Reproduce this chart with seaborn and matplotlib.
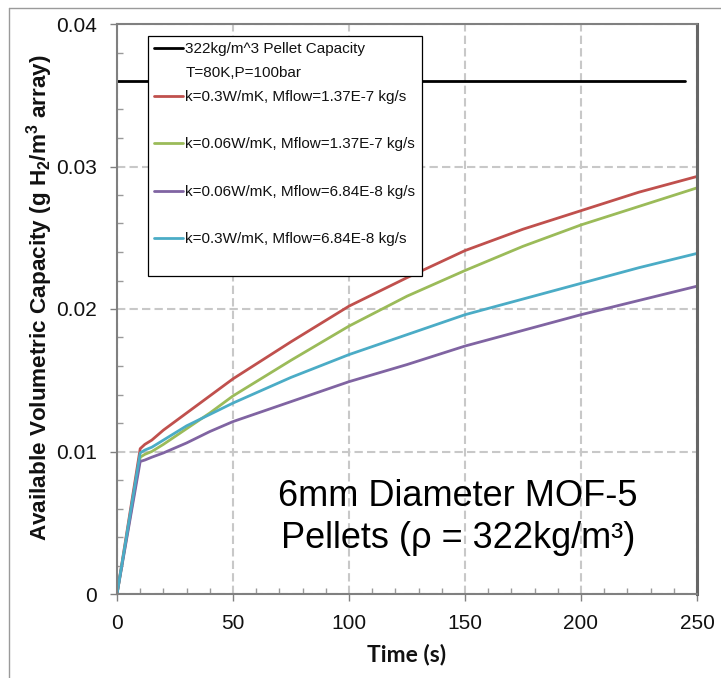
import numpy as np
import pandas as pd
import matplotlib
matplotlib.use("Agg")
import matplotlib.pyplot as plt
import seaborn as sns
from matplotlib.lines import Line2D
from matplotlib.legend_handler import HandlerLine2D
from matplotlib.ticker import MultipleLocator

# ---------------- data ----------------
time_s = [0, 10, 12, 15, 20, 30, 40, 50, 75, 100, 125, 150, 175, 200, 225, 250]
red_k03_m137 = [0, 0.0102, 0.0105, 0.0108, 0.0115, 0.0127, 0.0139, 0.0151, 0.0177,
                0.0202, 0.0222, 0.0241, 0.0256, 0.0269, 0.0282, 0.0293]
green_k006_m137 = [0, 0.0096, 0.0098, 0.0100, 0.0105, 0.0116, 0.0127, 0.0139, 0.0164,
                   0.0188, 0.0209, 0.0227, 0.0244, 0.0259, 0.0272, 0.0285]
purple_k006_m684 = [0, 0.0093, 0.0094, 0.0096, 0.0099, 0.0106, 0.0114, 0.0121, 0.0135,
                    0.0149, 0.0161, 0.0174, 0.0185, 0.0196, 0.0206, 0.0216]
cyan_k03_m684 = [0, 0.0099, 0.0101, 0.0103, 0.0108, 0.0118, 0.0126, 0.0134, 0.0152,
                 0.0168, 0.0182, 0.0196, 0.0207, 0.0218, 0.0229, 0.0239]

capacity_time = [0, 245]
capacity_value = [0.036, 0.036]

capacity_label = "322kg/m^3 Pellet Capacity\nT=80K,P=100bar"
series_labels = [
    "k=0.3W/mK, Mflow=1.37E-7 kg/s",
    "k=0.06W/mK, Mflow=1.37E-7 kg/s",
    "k=0.06W/mK, Mflow=6.84E-8 kg/s",
    "k=0.3W/mK, Mflow=6.84E-8 kg/s",
]
series_values = [red_k03_m137, green_k006_m137, purple_k006_m684, cyan_k03_m684]
series_colors = ["#C0504D", "#9BBB59", "#8064A2", "#4BACC6"]
capacity_color = "#000000"

x_ticks = [0, 50, 100, 150, 200, 250]
x_tick_labels = ["0", "50", "100", "150", "200", "250"]
y_ticks = [0, 0.01, 0.02, 0.03, 0.04]
y_tick_labels = ["0", "0.01", "0.02", "0.03", "0.04"]

x_label = "Time (s)"
y_label = r"Available Volumetric Capacity (g H$_\mathbf{2}$/m$^\mathbf{3}$ array)"
note_text = "6mm Diameter MOF-5\nPellets (\u03c1 = 322kg/m\u00b3)"

# ---------------- build frame ----------------
rows = []
for lab, vals in zip(series_labels, series_values):
    for t, v in zip(time_s, vals):
        rows.append({"time": t, "value": v, "series": lab})
df = pd.DataFrame(rows)
cap_df = pd.DataFrame({"time": capacity_time, "value": capacity_value})

# ---------------- style ----------------
sns.set_theme(style="white")
plt.rcParams["font.family"] = ["Liberation Sans", "DejaVu Sans"]
plt.rcParams["mathtext.fontset"] = "custom"
plt.rcParams["mathtext.rm"] = "Liberation Sans"
plt.rcParams["mathtext.bf"] = "Liberation Sans:bold"
plt.rcParams["mathtext.it"] = "Liberation Sans:italic"

fig = plt.figure(figsize=(7.21, 6.78), dpi=100)
ax = fig.add_axes([117 / 721, 1 - 594 / 678, 580 / 721, 570 / 678])

sns.lineplot(data=cap_df, x="time", y="value", color=capacity_color, lw=2,
             ax=ax, legend=False, sort=False)
sns.lineplot(data=df, x="time", y="value", hue="series", hue_order=series_labels,
             palette=series_colors, lw=2, ax=ax, legend=False, sort=False)

ax.set_xlim(0, 250)
ax.set_ylim(0, 0.04)
ax.set_xticks(x_ticks, labels=x_tick_labels)
ax.set_yticks(y_ticks, labels=y_tick_labels)
ax.xaxis.set_minor_locator(MultipleLocator(10))
ax.yaxis.set_minor_locator(MultipleLocator(0.002))
ax.tick_params(which="major", direction="out", length=5, width=1, color="#808080",
               labelsize=15, labelcolor="#111111", bottom=True, left=True)
ax.tick_params(axis="x", which="major", pad=9.5)
ax.tick_params(axis="y", which="major", pad=9.5)
ax.tick_params(which="minor", direction="in", length=4, width=1, color="#9a9a9a",
               bottom=True, left=True)

ax.grid(True, which="major", ls=(0, (4, 2)), color="#c8c8c8", lw=1.5)
ax.set_axisbelow(True)

for side in ["left", "bottom", "top"]:
    ax.spines[side].set_color("#808080")
    ax.spines[side].set_linewidth(1.5)
ax.spines["right"].set_color("#666666")
ax.spines["right"].set_linewidth(2.2)

ax.set_xlabel(x_label, family=["Lato", "DejaVu Sans"], fontweight="bold",
              fontsize=16.5, color="#111111")
ax.xaxis.set_label_coords(0.5, -0.087)
ax.set_ylabel(y_label, fontweight="bold", fontsize=16.2, color="#111111")
ax.yaxis.set_label_coords(-0.107, 0.519)

ax.text(147, 0.0054, note_text, ha="center", va="center", fontsize=26,
        linespacing=1.26, color="#000000")

# ---------------- legend ----------------
handles = [Line2D([], [], color=capacity_color, lw=2)] + \
          [Line2D([], [], color=c, lw=2) for c in series_colors]
labels = [capacity_label] + [l + "\n " for l in series_labels]


def shift_up(legend_handle, orig_handle):
    legend_handle.update_from(orig_handle)
    legend_handle.set_ydata(np.asarray(legend_handle.get_ydata()) + 9.5)


hmap = {h: HandlerLine2D(update_func=shift_up) for h in handles}
leg = ax.legend(handles, labels, handler_map=hmap, loc="upper left",
                bbox_to_anchor=(31 / 580, 1 - 12 / 570), borderaxespad=0,
                fontsize=11, frameon=True, fancybox=False, framealpha=1,
                edgecolor="#000000", labelspacing=0.63, handlelength=1.9,
                handletextpad=0.15, borderpad=0.4)
leg.get_frame().set_linewidth(0.9)
for t in leg.get_texts():
    t.set_linespacing(1.9)
    t.set_color("#111111")

# ---------------- figure frame lines ----------------
fig.add_artist(Line2D([9 / 721, 9 / 721], [0, 1 - 8 / 678], transform=fig.transFigure,
                      color="#9a9a9a", lw=1))
fig.add_artist(Line2D([9 / 721, 1], [1 - 8 / 678, 1 - 8 / 678], transform=fig.transFigure,
                      color="#9a9a9a", lw=1))

fig.savefig("out.png", dpi=100)
